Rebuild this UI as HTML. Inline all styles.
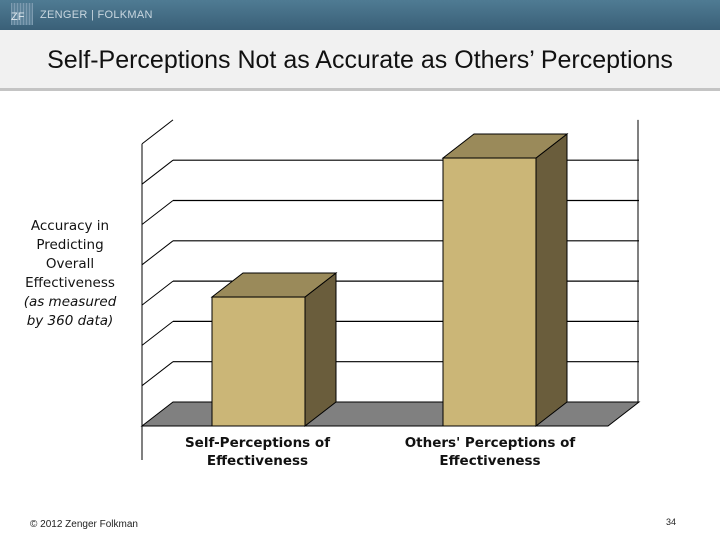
<!DOCTYPE html>
<html><head><meta charset="utf-8"><style>
body{margin:0;width:720px;height:540px;background:#fff;font-family:"Liberation Sans",sans-serif;position:relative;overflow:hidden}
.hdr{position:absolute;left:0;top:0;width:720px;height:30px;background:linear-gradient(#4f7b93,#3a6078)}
.band{position:absolute;left:0;top:30px;width:720px;height:58px;background:#f1f1f1;border-bottom:3px solid #c4c4c4}
.title{position:absolute;left:0;width:720px;top:46px;text-align:center;font-size:25px;color:#111}
.ylab{position:absolute;left:5px;top:217px;width:130px;text-align:center;font-family:"DejaVu Sans",sans-serif;font-size:13.5px;line-height:19px;color:#111}
.cat{position:absolute;top:434px;text-align:center;font-family:"DejaVu Sans",sans-serif;font-weight:bold;font-size:13.5px;line-height:18px;color:#111}
</style></head><body>
<div class="hdr">
 <div style="position:absolute;left:11px;top:3px;width:22px;height:22px;background:repeating-linear-gradient(90deg,#7d9bb0 0 1px,transparent 1px 3px),#5d8299;color:#dfe8ee;font-size:11px;line-height:28px;text-align:left">ZF</div>
 <div style="position:absolute;left:40px;top:9px;color:#c8d6df;font-size:11px;letter-spacing:0.3px">ZENGER | FOLKMAN</div>
</div>
<div class="band"></div>
<div class="title">Self-Perceptions Not as Accurate as Others’ Perceptions</div>
<div class="ylab">Accuracy in<br>Predicting<br>Overall<br>Effectiveness<br><i>(as measured<br>by 360 data)</i></div>
<svg id="chart" width="720" height="540" style="position:absolute;left:0;top:0"></svg>
<div class="cat" style="left:170px;width:175px">Self-Perceptions of Effectiveness</div>
<div class="cat" style="left:395px;width:190px">Others' Perceptions of Effectiveness</div>
<div style="position:absolute;left:30px;top:519px;font-size:10px;color:#222">© 2012 Zenger Folkman</div>
<div style="position:absolute;left:666px;top:517px;font-size:9px;color:#222">34</div>
<script>
const categories=["Self-Perceptions of Effectiveness","Others' Perceptions of Effectiveness"];
const values=[3.2,6.65];
const gridTicks=[0,1,2,3,4,5,6,7];
const NS="http://www.w3.org/2000/svg";
const svg=document.getElementById('chart');
const X0=142,X1=608,BASE=426,UNIT=40.3,DX=31,DY=-24;
const y=v=>BASE-v*UNIT;
const barX=[212,443],barW=93;
function mk(t,a){const e=document.createElementNS(NS,t);for(const k in a)e.setAttribute(k,a[k]);svg.appendChild(e);return e;}
let f=mk('polygon',{points:`${X0},${BASE} ${X1},${BASE} ${X1+DX},${BASE+DY} ${X0+DX},${BASE+DY}`,fill:'#808080',stroke:'#000','stroke-width':1});

gridTicks.forEach(t=>{
 if(t===0)return;
 let l=mk('line',{x1:X0,y1:y(t),x2:X0+DX,y2:y(t)+DY,stroke:'#000','stroke-width':1});
 
 if(t<gridTicks[gridTicks.length-1]){
  let g=mk('line',{x1:X0+DX,y1:y(t)+DY,x2:X1+DX,y2:y(t)+DY,stroke:'#000','stroke-width':1.2});
  
 }
});
let lw=mk('line',{x1:X0,y1:y(7),x2:X0,y2:BASE+34,stroke:'#000','stroke-width':1});

let rw=mk('line',{x1:X1+DX-1,y1:y(7)+DY,x2:X1+DX-1,y2:BASE+DY,stroke:'#000','stroke-width':1});

values.forEach((v,i)=>{
 const x=barX[i],top=y(v);
 let s=mk('polygon',{points:`${x+barW},${BASE} ${x+barW+DX},${BASE+DY} ${x+barW+DX},${top+DY} ${x+barW},${top}`,fill:'#6a5d3c',stroke:'#000','stroke-width':1});
 
 let tp=mk('polygon',{points:`${x},${top} ${x+DX},${top+DY} ${x+barW+DX},${top+DY} ${x+barW},${top}`,fill:'#9a8a5a',stroke:'#000','stroke-width':1});
 
 let r=mk('rect',{x:x,y:top,width:barW,height:BASE-top,fill:'#cbb677',stroke:'#000','stroke-width':1});
 
});
</script>
</body></html>
